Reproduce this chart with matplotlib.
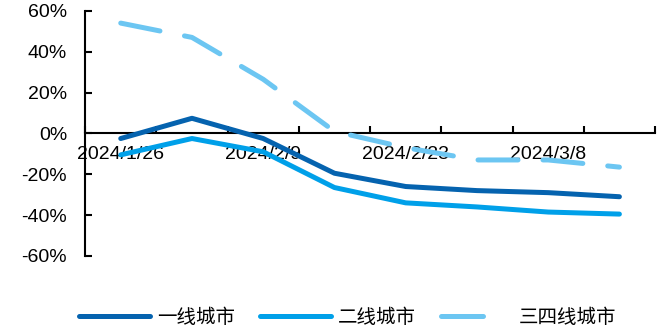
import matplotlib.pyplot as plt
from matplotlib.lines import Line2D
import numpy as np

plt.rcParams['font.family'] = ['Liberation Sans', 'Noto Sans CJK SC', 'DejaVu Sans']

dates = ["2024/1/26", "2024/2/2", "2024/2/9", "2024/2/16",
         "2024/2/23", "2024/3/1", "2024/3/8", "2024/3/15"]
tier1 = [-2.5, 7.4, -2.5, -19.5, -26, -28, -29, -31]
tier2 = [-10.5, -2.5, -9, -26.5, -34, -36, -38.5, -39.5]
tier34 = [54, 47, 26.5, 1, -7, -13, -13, -16.5]
names = ['一线城市', '二线城市', '三四线城市']
colors = ['#0563AF', '#00A0E9', '#6CC6F2']

fig = plt.figure(figsize=(6.65, 3.29), dpi=100)
ax = fig.add_axes([0.128, 0.222, 0.857, 0.745])

x = np.arange(len(dates)) + 0.5
ax.plot(x, tier1, color=colors[0], lw=3.6, solid_capstyle='round', zorder=3)
ax.plot(x, tier2, color=colors[1], lw=3.6, solid_capstyle='round', zorder=3)
ax.plot(x, tier34, color=colors[2], lw=3.6, dashes=(8, 5),
        dash_capstyle='round', zorder=3)

ax.set_xlim(0, len(dates))
ax.set_ylim(-60, 60)
ax.set_yticks(np.arange(-60, 61, 20))
ax.set_yticklabels([f"{v}%" for v in range(-60, 61, 20)])

# boundaries get the tick marks, centres get the labels
ax.set_xticks(np.arange(0, len(dates) + 1))
ax.set_xticklabels([])
ax.set_xticks(x[::2], minor=True)
ax.set_xticklabels(dates[::2], minor=True)
ax.tick_params(axis='x', which='major', direction='in', length=5, width=1.5)
ax.tick_params(axis='x', which='minor', length=0, pad=9, labelsize=14)
ax.tick_params(axis='y', direction='in', length=5, width=1.5, pad=13, labelsize=14)

ax.spines['top'].set_visible(False)
ax.spines['right'].set_visible(False)
ax.spines['bottom'].set_position(('data', 0))
ax.spines['bottom'].set_linewidth(1.5)
ax.spines['left'].set_linewidth(1.5)

handles = [Line2D([], [], color=colors[0], lw=3.6, solid_capstyle='round'),
           Line2D([], [], color=colors[1], lw=3.6, solid_capstyle='round'),
           Line2D([], [], color=colors[2], lw=3.6, dashes=(8.4, 20),
                  dash_capstyle='round')]
fig.legend(handles, names, loc='center', bbox_to_anchor=(0.523, 0.035), ncol=3,
           frameon=False, handlelength=3.65, handletextpad=0.35, columnspacing=1.3,
           prop={'family': ['Noto Sans CJK SC'], 'size': 14})

fig.savefig("out.png", dpi=100)
